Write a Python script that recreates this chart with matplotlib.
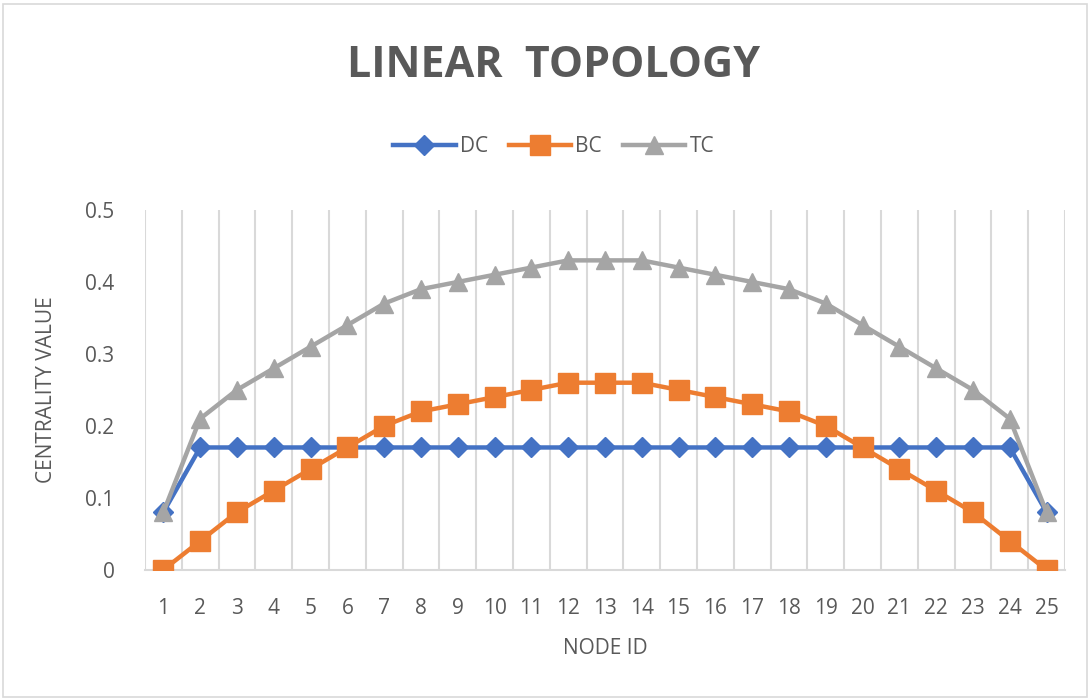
import matplotlib.pyplot as plt
from matplotlib.patches import Rectangle

node_ids = list(range(1, 26))
dc = [0.08] + [0.17] * 23 + [0.08]
bc = [0, 0.04, 0.08, 0.11, 0.14, 0.17, 0.20, 0.22, 0.23, 0.24, 0.25, 0.26, 0.26,
      0.26, 0.25, 0.24, 0.23, 0.22, 0.20, 0.17, 0.14, 0.11, 0.08, 0.04, 0]
tc = [0.08, 0.21, 0.25, 0.28, 0.31, 0.34, 0.37, 0.39, 0.40, 0.41, 0.42, 0.43, 0.43,
      0.43, 0.42, 0.41, 0.40, 0.39, 0.37, 0.34, 0.31, 0.28, 0.25, 0.21, 0.08]
y_ticks = [0, 0.1, 0.2, 0.3, 0.4, 0.5]
y_tick_labels = ['0', '0.1', '0.2', '0.3', '0.4', '0.5']

plt.rcParams['font.family'] = ['Open Sans', 'DejaVu Sans']
text_color = '#595959'

fig = plt.figure(figsize=(10.9, 7), dpi=100)
fig.patches.append(Rectangle((0.003, 0.004), 0.994, 0.99, transform=fig.transFigure,
                             fill=False, edgecolor='#d9d9d9', linewidth=1.2))

ax = fig.add_axes([0.133, 0.186, 0.844, 0.514])

# same drawing order as the original: DC, then BC, then TC on top
ax.plot(node_ids, dc, color='#4472C4', linewidth=3.2, marker='D', markersize=10,
        label='DC', zorder=2)
ax.plot(node_ids, bc, color='#ED7D31', linewidth=3.2, marker='s', markersize=14,
        label='BC', zorder=3)
ax.plot(node_ids, tc, color='#A5A5A5', linewidth=3.2, marker='^', markersize=13,
        label='TC', zorder=4)

ax.set_xlim(0.5, 25.5)
ax.set_ylim(0, 0.5)
ax.set_xticks(node_ids)
ax.set_xticklabels([str(n) for n in node_ids])
ax.set_yticks(y_ticks)
ax.set_yticklabels(y_tick_labels)
ax.set_xticks([n + 0.5 for n in range(0, 26)], minor=True)
ax.grid(True, axis='x', which='minor', color='#d9d9d9', linewidth=1.5)
ax.tick_params(axis='both', which='both', length=0, labelsize=15, colors=text_color)
ax.tick_params(axis='x', pad=20)
ax.tick_params(axis='y', pad=22)
for side in ['top', 'right', 'left']:
    ax.spines[side].set_visible(False)
ax.spines['bottom'].set_color('#d9d9d9')
ax.spines['bottom'].set_linewidth(1.5)
ax.set_axisbelow(True)

ax.set_xlabel('NODE ID', fontsize=15, color=text_color, labelpad=14)
ax.set_ylabel('CENTRALITY VALUE', fontsize=15, color=text_color, labelpad=20)

fig.text(0.508, 0.906, 'LINEAR  TOPOLOGY', ha='center', va='center',
         fontsize=31, fontweight='bold', color=text_color)
fig.legend(loc='center', bbox_to_anchor=(0.508, 0.79), ncol=3, frameon=False,
           fontsize=15, labelcolor=text_color, handlelength=3, columnspacing=1.0,
           handletextpad=0.2)

fig.savefig('out.png', dpi=100)
